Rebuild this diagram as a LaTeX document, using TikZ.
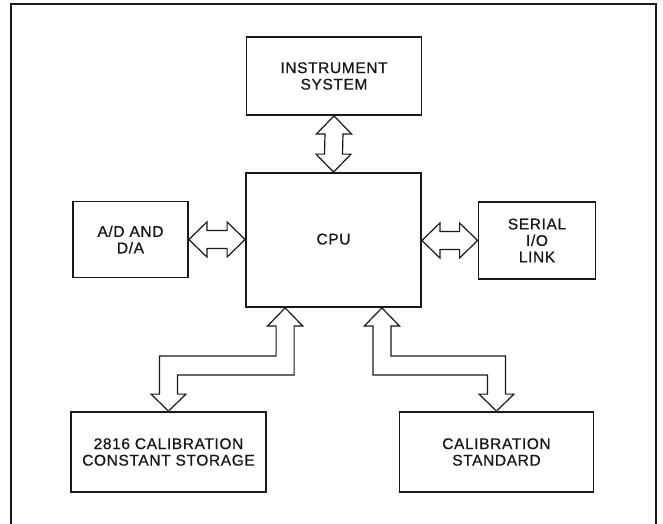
\documentclass[tikz,border=0pt]{standalone}
\usepackage{fontspec}
\setmainfont{Liberation Sans}
\newfontfamily\lblfont[LetterSpace=4,FakeBold=0.8]{Liberation Sans}
\usetikzlibrary{calc}
\definecolor{ink}{gray}{0.1}
\begin{document}
\begin{tikzpicture}[x=1pt,y=-1pt,
  lbl/.style={font=\lblfont\fontsize{15.5}{16.5}\selectfont, text=ink, align=center, inner sep=0pt},
  box/.style={lbl, draw=ink, line width=1.8pt},
  arr/.style={draw=ink, line width=1.2pt, line join=miter},
  frame/.style={draw=ink, line width=2pt},
  vdbl/.style={to path={(\tikztostart) -- ($(\tikztostart)+(17.5,18)$) -- ($(\tikztostart)+(9,18)$)
     -- ($(\tikztotarget)+(9,-18)$) -- ($(\tikztotarget)+(17.5,-18)$) -- (\tikztotarget)
     -- ($(\tikztotarget)+(-17.5,-18)$) -- ($(\tikztotarget)+(-9,-18)$)
     -- ($(\tikztostart)+(-9,18)$) -- ($(\tikztostart)+(-17.5,18)$) -- cycle}},
  hdbl/.style={to path={(\tikztostart) -- ($(\tikztostart)+(18,-17.5)$) -- ($(\tikztostart)+(18,-9)$)
     -- ($(\tikztotarget)+(-18,-9)$) -- ($(\tikztotarget)+(-18,-17.5)$) -- (\tikztotarget)
     -- ($(\tikztotarget)+(-18,17.5)$) -- ($(\tikztotarget)+(-18,9)$)
     -- ($(\tikztostart)+(18,9)$) -- ($(\tikztostart)+(18,17.5)$) -- cycle}}
]
\useasboundingbox (0,0) rectangle (663,523);
\fill[white] (0,0) rectangle (663,523);
% outer frame
\draw[frame] (11,530) -- (11,4) -- (656,4) -- (656,530);

% boxes
\node[box, minimum width=175pt, minimum height=78pt] (inst) at (334,76) {INSTRUMENT\\SYSTEM};
\node[box, minimum width=175pt, minimum height=134pt] (cpu) at (333.5,240) {};
\node[lbl] (cputext) at ($(cpu.north)+(0,67)$) {CPU};
\node[box, minimum width=115pt, minimum height=76pt] (ad) at (130.5,239.5) {A/D AND\\D/A};
\node[box, minimum width=117pt, minimum height=77pt] (serial) at (537,240.5) {SERIAL\\I/O\\LINK};
\node[box, minimum width=195pt, minimum height=80pt] (cal2816) at (168.5,452) {2816 CALIBRATION\\CONSTANT STORAGE};
\node[box, minimum width=194pt, minimum height=80pt] (calstd) at (496.5,452) {CALIBRATION\\STANDARD};

% straight double arrows
\draw[arr] (inst.south) to[vdbl] (cpu.north);
\draw[arr] (ad.east) to[hdbl] (ad.east -| cpu.west);
\draw[arr] (cpu.east |- serial.west) to[hdbl] (serial.west);

% bent double arrows
\coordinate (t1) at ($(cpu.south west)+(40,0)$);
\coordinate (t2) at (cal2816.north);
\coordinate (t3) at ($(cpu.south east)+(-40,0)$);
\coordinate (t4) at (calstd.north);
\coordinate (hu) at ($(t1)+(0,48)$);
\coordinate (hl) at ($(t1)+(0,67)$);

\draw[arr] (t1) -- ++(17.5,18) -- ++(-8.5,0)
  -- ($(t1 |- hl)+(9,0)$) -- ($(t2 |- hl)+(9,0)$) -- ($(t2)+(9,-17)$) -- ++(8.5,0)
  -- (t2) -- ++(-17.5,-17) -- ++(8.5,0)
  -- ($(t2 |- hu)+(-9,0)$) -- ($(t1 |- hu)+(-9,0)$) -- ($(t1)+(-9,18)$) -- ++(-8.5,0) -- cycle;

\draw[arr] (t3) -- ++(-17.5,18) -- ++(8.5,0)
  -- ($(t3 |- hl)+(-9,0)$) -- ($(t4 |- hl)+(-9,0)$) -- ($(t4)+(-9,-17)$) -- ++(-8.5,0)
  -- (t4) -- ++(17.5,-17) -- ++(-8.5,0)
  -- ($(t4 |- hu)+(9,0)$) -- ($(t3 |- hu)+(9,0)$) -- ($(t3)+(9,18)$) -- ++(8.5,0) -- cycle;
\end{tikzpicture}
\end{document}
